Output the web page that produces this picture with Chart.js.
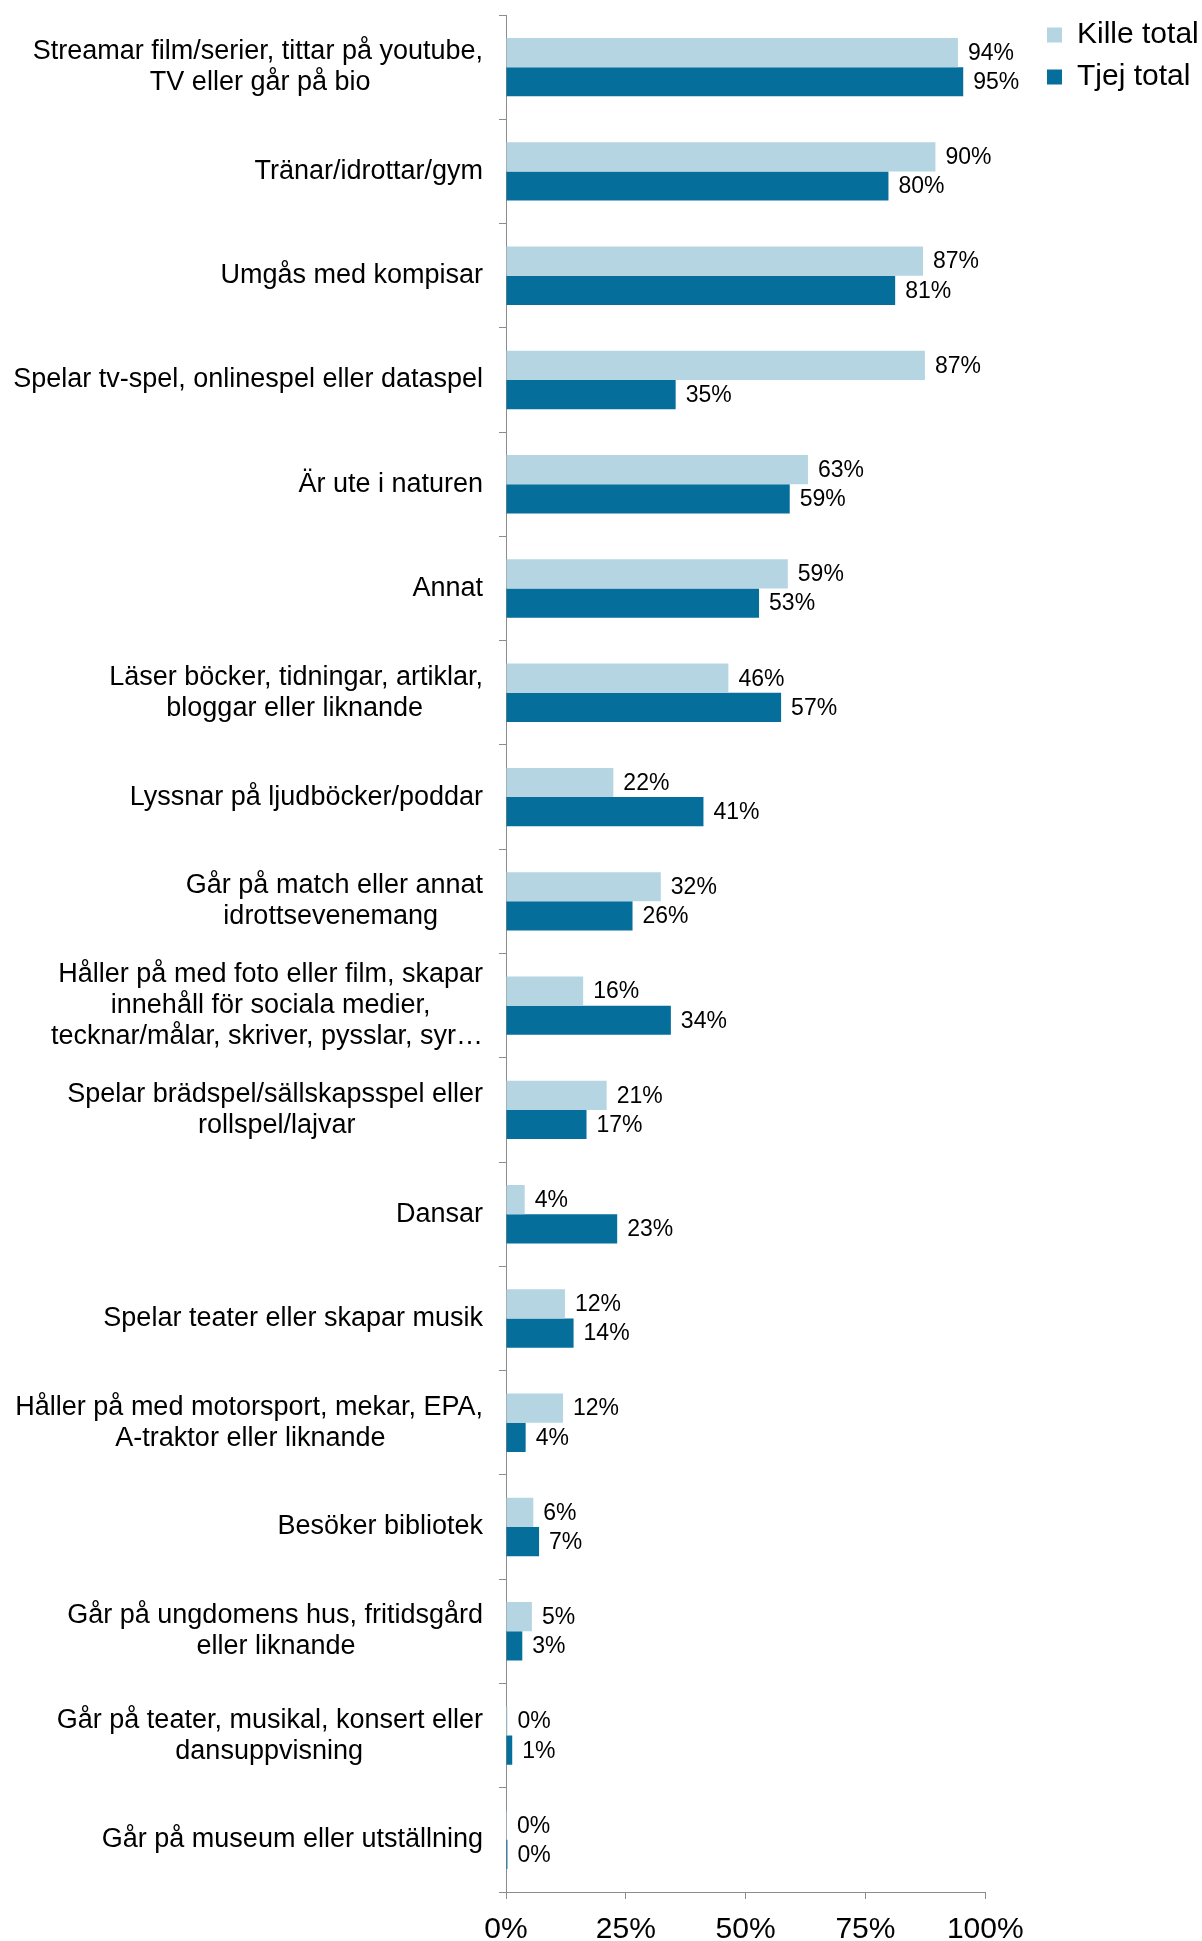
<!DOCTYPE html>
<html>
<head>
<meta charset="utf-8">
<script src="https://cdn.jsdelivr.net/npm/chart.js@4.4.1/dist/chart.umd.min.js"></script>
<style>
  html, body { margin: 0; padding: 0; background: #fff; }
  #wrap { width: 1202px; height: 1941px; }
</style>
</head>
<body>
<div id="wrap"><canvas id="chart" width="1202" height="1941"></canvas></div>
<script>
// Fritidsaktiviteter, kille vs tjej (andel %)
const categories = [
  ['Streamar film/serier, tittar på youtube,', 'TV eller går på bio'],
  'Tränar/idrottar/gym',
  'Umgås med kompisar',
  'Spelar tv-spel, onlinespel eller dataspel',
  'Är ute i naturen',
  'Annat',
  ['Läser böcker, tidningar, artiklar,', 'bloggar eller liknande'],
  'Lyssnar på ljudböcker/poddar',
  ['Går på match eller annat', 'idrottsevenemang'],
  ['Håller på med foto eller film, skapar', 'innehåll för sociala medier,', 'tecknar/målar, skriver, pysslar, syr…'],
  ['Spelar brädspel/sällskapsspel eller', 'rollspel/lajvar'],
  'Dansar',
  'Spelar teater eller skapar musik',
  ['Håller på med motorsport, mekar, EPA,', 'A-traktor eller liknande'],
  'Besöker bibliotek',
  ['Går på ungdomens hus, fritidsgård', 'eller liknande'],
  ['Går på teater, musikal, konsert eller', 'dansuppvisning'],
  'Går på museum eller utställning',
];
const kille = [94.3, 89.6, 87.0, 87.4, 63.0, 58.8, 46.4, 22.4, 32.3, 16.1, 21.0, 3.9, 12.3, 11.9, 5.7, 5.4, 0.3, 0.2];
const tjej  = [95.4, 79.8, 81.2, 35.4, 59.2, 52.8, 57.4, 41.2, 26.4, 34.4, 16.8, 23.2, 14.1, 4.1, 6.9, 3.4, 1.3, 0.3];
const xTicks = [0, 25, 50, 75, 100];

const FONT = '"Liberation Sans", Arial, sans-serif';
const LIGHT = '#B4D5E1', DARK = '#056E9B', AXIS = '#8C8C8C';

// Excel-style: block right aligned, lines centred inside it -> pad short lines with spaces
const mctx = document.createElement('canvas').getContext('2d');
mctx.font = '27px ' + FONT;
const spaceW = mctx.measureText(' ').width;
const padLabel = (lbl) => {
  if (!Array.isArray(lbl)) return lbl;
  const ws = lbl.map((l) => mctx.measureText(l).width);
  const max = Math.max(...ws);
  return lbl.map((l, i) => l + ' '.repeat(Math.round((max - ws[i]) / 2 / spaceW)));
};
const labels = categories.map(padLabel);

const valueLabels = {
  id: 'valueLabels',
  afterDatasetsDraw(chart) {
    const ctx = chart.ctx;
    ctx.save();
    ctx.font = '23px ' + FONT;
    ctx.fillStyle = '#000';
    ctx.textBaseline = 'middle';
    chart.data.datasets.forEach((ds, i) => {
      chart.getDatasetMeta(i).data.forEach((bar, j) => {
        ctx.fillText(Math.round(ds.data[j]) + '%', bar.x + 10, bar.y + 1);
      });
    });
    ctx.restore();
  },
};

// legend sits in the top right corner, a bit away from the plot
const legendSpot = {
  id: 'legendSpot',
  afterLayout(chart) {
    const lg = chart.legend;
    const dx = 1035 - lg.left, dy = 8 - lg.top;
    lg.left += dx; lg.right += dx; lg.top += dy; lg.bottom += dy;
  },
};

new Chart(document.getElementById('chart'), {
  type: 'bar',
  data: {
    labels,
    datasets: [
      { label: 'Kille total', data: kille, backgroundColor: LIGHT, borderWidth: 0 },
      { label: 'Tjej total', data: tjej, backgroundColor: DARK, borderWidth: 0 },
    ],
  },
  options: {
    indexAxis: 'y',
    responsive: false,
    animation: false,
    layout: { padding: { top: 15, right: 43, left: 0, bottom: 0 } },
    datasets: { bar: { categoryPercentage: 0.56, barPercentage: 1 } },
    scales: {
      x: {
        min: 0, max: 100,
        afterBuildTicks: (s) => { s.ticks = xTicks.map((v) => ({ value: v })); },
        afterFit: (s) => { s.height = 49; },
        grid: { drawOnChartArea: false, drawTicks: true, tickLength: 7, color: AXIS },
        border: { color: AXIS, width: 1 },
        ticks: { color: '#000', font: { family: FONT, size: 30 }, padding: 13, maxRotation: 0, callback: (v) => v + '%' },
      },
      y: {
        afterFit: (s) => { s.width = 506; s.paddingTop = 0; s.paddingBottom = 0; },
        grid: { drawOnChartArea: false, drawTicks: true, tickLength: 7, offset: true, color: AXIS },
        border: { color: AXIS, width: 1 },
        ticks: { color: '#000', font: { family: FONT, size: 27, lineHeight: 1.15 }, padding: 16, autoSkip: false },
      },
    },
    plugins: {
      legend: {
        position: 'right', align: 'start',
        labels: { color: '#000', font: { family: FONT, size: 30 }, boxWidth: 15, boxHeight: 15, padding: 12 },
      },
      tooltip: { enabled: false },
    },
  },
  plugins: [valueLabels, legendSpot],
});
</script>
</body>
</html>
